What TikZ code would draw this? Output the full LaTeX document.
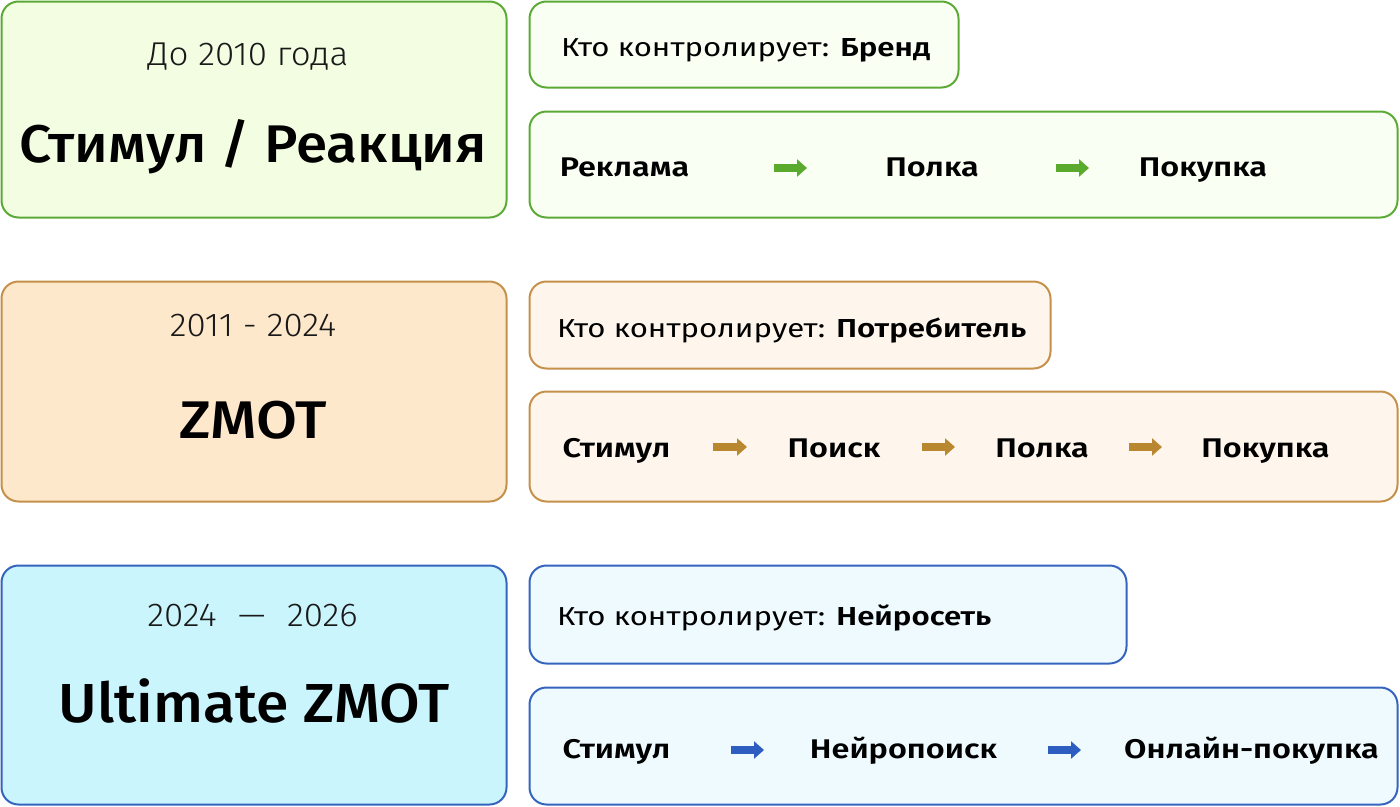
\documentclass[tikz,border=0pt]{standalone}
\usepackage{fontspec}
\newcommand{\pickfont}[3]{% #1 name, #2 file, #3 fallback -> \pickedfont
  \IfFontExistsTF{#1}{\def\pickedfont{#1}}{\IfFontExistsTF{#2}{\def\pickedfont{#2}}{\def\pickedfont{#3}}}}
\pickfont{Fira Sans SemiBold}{FiraSans-SemiBold.otf}{Fira Sans Bold}
\let\seminame\pickedfont
\pickfont{Fira Sans Light}{FiraSans-Light.otf}{Fira Sans}
\let\lightname\pickedfont
\pickfont{Fira Sans Medium}{FiraSans-Medium.otf}{\seminame}
\let\mediumname\pickedfont
\setmainfont{Fira Sans}[FakeStretch=1.2, BoldFont={\seminame}, BoldFeatures={FakeStretch=1.2}]
\newfontfamily\lightfont{\lightname}[FakeStretch=1.06]
\newfontfamily\titlefont{\mediumname}[FakeStretch=1.07]
\usetikzlibrary{arrows.meta}
\definecolor{gS}{HTML}{5CAA36}
\definecolor{gF}{HTML}{F3FDE2}
\definecolor{gL}{HTML}{FAFFF4}
\definecolor{gA}{HTML}{5AAA2E}
\definecolor{oS}{HTML}{C4904A}
\definecolor{oF}{HTML}{FDE8CB}
\definecolor{oL}{HTML}{FEF6EC}
\definecolor{oA}{HTML}{B98730}
\definecolor{bS}{HTML}{3564BE}
\definecolor{bF}{HTML}{CBF5FC}
\definecolor{bL}{HTML}{EEFAFE}
\definecolor{bA}{HTML}{2E5DC2}
\tikzset{
  box/.style={rounded corners=17pt, line width=2pt, inner sep=0pt, outer sep=0pt},
  year/.style={font=\lightfont\fontsize{33}{38}\selectfont, text=black!90, inner sep=0pt, anchor=base},
  title/.style={font=\titlefont\fontsize{53}{60}\selectfont, inner sep=0pt, anchor=base},
  who/.style={font=\fontsize{26}{30}\selectfont, anchor=base west, inner sep=0pt},
  stage/.style={font=\fontsize{27}{31}\selectfont\bfseries, inner sep=0pt, anchor=base},
  flowarrow/.style={line width=8pt, -{Triangle[length=10pt,width=17pt]}}
}
\begin{document}
\begin{tikzpicture}[x=1pt,y=-1pt]
\useasboundingbox (0,0) rectangle (1400,806);
% ---- row 1
\node[box, draw=gS, fill=gF, minimum width=505pt, minimum height=216pt] (L1) at (254,109.5) {};
\node[box, draw=gS, fill=gL, minimum width=429pt, minimum height=86pt] (W1) at (744,44.5) {};
\node[box, draw=gS, fill=gL, minimum width=868pt, minimum height=106pt] (F1) at (963.5,164.5) {};
\node[year] (y1) at (248,65) {До 2010 года};
\node[title] (t1) at (253,162.7) {Стимул / Реакция};
\node[who] (c1) at (561,56.5) {Кто контролирует: \textbf{Бренд}};
\node[stage] (s11) at (624.5,176) {Реклама};
\node[stage] (s12) at (932,176) {Полка};
\node[stage] (s13) at (1203,176) {Покупка};
\coordinate (a11s) at (774,168); \coordinate (a11e) at (807,168);
\coordinate (a12s) at (1056,168); \coordinate (a12e) at (1089,168);
\draw[flowarrow, gA] (a11s) -- (a11e);
\draw[flowarrow, gA] (a12s) -- (a12e);
% ---- row 2
\node[box, draw=oS, fill=oF, minimum width=505pt, minimum height=220pt] (L2) at (254,391.5) {};
\node[box, draw=oS, fill=oL, minimum width=521pt, minimum height=87pt] (W2) at (790,325) {};
\node[box, draw=oS, fill=oL, minimum width=868pt, minimum height=110pt] (F2) at (963.5,446.5) {};
\node[year] (y2) at (253,336.7) {2011 - 2024};
\node[title, font=\titlefont\fontsize{53}{60}\selectfont\addfontfeatures{FakeStretch=1.12}] (t2) at (253,438.3) {ZMOT};
\node[who] (c2) at (557,337.5) {Кто контролирует: \textbf{Потребитель}};
\node[stage] (s21) at (616.5,457.5) {Стимул};
\node[stage] (s22) at (834,457.5) {Поиск};
\node[stage] (s23) at (1042,457.5) {Полка};
\node[stage] (s24) at (1265.5,457.5) {Покупка};
\coordinate (a21s) at (713,447); \coordinate (a21e) at (747,447);
\coordinate (a22s) at (922,447); \coordinate (a22e) at (955,447);
\coordinate (a23s) at (1129,447); \coordinate (a23e) at (1162,447);
\draw[flowarrow, oA] (a21s) -- (a21e);
\draw[flowarrow, oA] (a22s) -- (a22e);
\draw[flowarrow, oA] (a23s) -- (a23e);
% ---- row 3
\node[box, draw=bS, fill=bF, minimum width=505pt, minimum height=239pt] (L3) at (254,685) {};
\node[box, draw=bS, fill=bL, minimum width=597pt, minimum height=98pt] (W3) at (828,614.5) {};
\node[box, draw=bS, fill=bL, minimum width=868pt, minimum height=117pt] (F3) at (963.5,746) {};
\node[year] (y3) at (252.5,626.7) {2024\hspace{0.65em}—\hspace{0.65em}2026};
\node[title, font=\titlefont\fontsize{55}{62}\selectfont] (t3) at (254,722.7) {Ultimate ZMOT};
\node[who] (c3) at (557,625.5) {Кто контролирует: \textbf{Нейросеть}};
\node[stage] (s31) at (616.5,758.5) {Стимул};
\node[stage] (s32) at (903.5,758.5) {Нейропоиск};
\node[stage] (s33) at (1251.5,758.5) {Онлайн-покупка};
\coordinate (a31s) at (731,750); \coordinate (a31e) at (764,750);
\coordinate (a32s) at (1048,750); \coordinate (a32e) at (1081,750);
\draw[flowarrow, bA] (a31s) -- (a31e);
\draw[flowarrow, bA] (a32s) -- (a32e);
\end{tikzpicture}
\end{document}
